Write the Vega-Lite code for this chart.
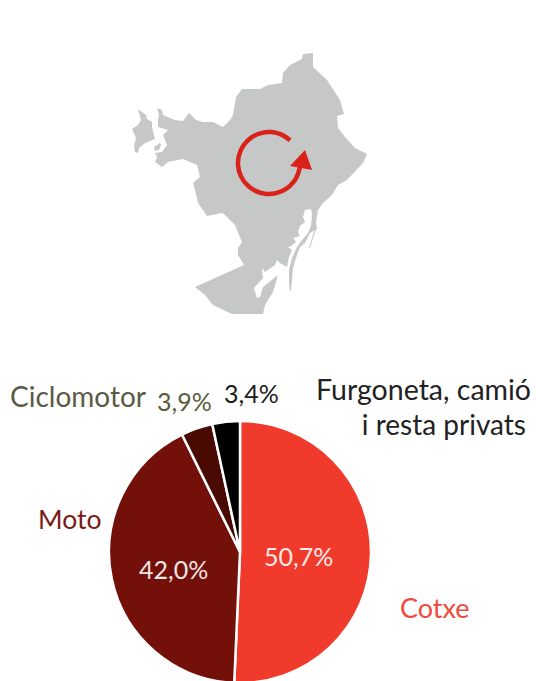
{
"$schema":"https://vega.github.io/schema/vega-lite/v6.json",
"width":536,"height":681,"padding":0,"autosize":{"type":"none"},
"background":"white",
"config":{"view":{"stroke":null},"axis":{"disable":true},"text":{"font":"Lato","fontSize":27,"fontWeight":400}},
"data":{"values":[
{"mode":"Cotxe","share":50.7,"rank":1},
{"mode":"Moto","share":42.0,"rank":2},
{"mode":"Ciclomotor","share":3.9,"rank":3},
{"mode":"Furgoneta, camió i resta privats","share":3.4,"rank":4}
]},
"layer":[
{"data":{"values":[
{"part":"main","i":1,"mx":157,"my":108},{"part":"main","i":2,"mx":162,"my":110},{"part":"main","i":3,"mx":163,"my":115},{"part":"main","i":4,"mx":170,"my":118},{"part":"main","i":5,"mx":175,"my":120},{"part":"main","i":6,"mx":183,"my":121},{"part":"main","i":7,"mx":189,"my":113},{"part":"main","i":8,"mx":196,"my":120},{"part":"main","i":9,"mx":203,"my":122},{"part":"main","i":10,"mx":213,"my":122},{"part":"main","i":11,"mx":223,"my":127},{"part":"main","i":12,"mx":230,"my":120},{"part":"main","i":13,"mx":233,"my":115},{"part":"main","i":14,"mx":236,"my":97},{"part":"main","i":15,"mx":242,"my":89},{"part":"main","i":16,"mx":260,"my":89},{"part":"main","i":17,"mx":268,"my":85},{"part":"main","i":18,"mx":282,"my":83},{"part":"main","i":19,"mx":283,"my":73},{"part":"main","i":20,"mx":290,"my":65},{"part":"main","i":21,"mx":302,"my":59},{"part":"main","i":22,"mx":303,"my":54},{"part":"main","i":23,"mx":313,"my":53},{"part":"main","i":24,"mx":313,"my":67},{"part":"main","i":25,"mx":327,"my":80},{"part":"main","i":26,"mx":340,"my":100},{"part":"main","i":27,"mx":344,"my":114},{"part":"main","i":28,"mx":337,"my":116},{"part":"main","i":29,"mx":338,"my":128},{"part":"main","i":30,"mx":345,"my":137},{"part":"main","i":31,"mx":355,"my":148},{"part":"main","i":32,"mx":367,"my":154},{"part":"main","i":33,"mx":363,"my":163},{"part":"main","i":34,"mx":347,"my":180},{"part":"main","i":35,"mx":338,"my":185},{"part":"main","i":36,"mx":332,"my":195},{"part":"main","i":37,"mx":323,"my":203},{"part":"main","i":38,"mx":318,"my":210},{"part":"main","i":39,"mx":316,"my":222},{"part":"main","i":40,"mx":317,"my":229},{"part":"main","i":41,"mx":310,"my":233},{"part":"main","i":42,"mx":305,"my":243},{"part":"main","i":43,"mx":300,"my":247},{"part":"main","i":44,"mx":296,"my":258},{"part":"main","i":45,"mx":293,"my":268},{"part":"main","i":46,"mx":292,"my":280},{"part":"main","i":47,"mx":291,"my":291},{"part":"main","i":48,"mx":290,"my":291},{"part":"main","i":49,"mx":289,"my":283},{"part":"main","i":50,"mx":289,"my":270},{"part":"main","i":51,"mx":292,"my":258},{"part":"main","i":52,"mx":297,"my":247},{"part":"main","i":53,"mx":302,"my":240},{"part":"main","i":54,"mx":308,"my":233},{"part":"main","i":55,"mx":311,"my":226},{"part":"main","i":56,"mx":312,"my":215},{"part":"main","i":57,"mx":311,"my":209},{"part":"main","i":58,"mx":305,"my":210},{"part":"main","i":59,"mx":303,"my":217},{"part":"main","i":60,"mx":305,"my":222},{"part":"main","i":61,"mx":300,"my":226},{"part":"main","i":62,"mx":298,"my":232},{"part":"main","i":63,"mx":300,"my":236},{"part":"main","i":64,"mx":293,"my":238},{"part":"main","i":65,"mx":296,"my":242},{"part":"main","i":66,"mx":291,"my":246},{"part":"main","i":67,"mx":288,"my":247},{"part":"main","i":68,"mx":292,"my":250},{"part":"main","i":69,"mx":289,"my":257},{"part":"main","i":70,"mx":287,"my":267},{"part":"main","i":71,"mx":280,"my":263},{"part":"main","i":72,"mx":277,"my":260},{"part":"main","i":73,"mx":275,"my":265},{"part":"main","i":74,"mx":265,"my":272},{"part":"main","i":75,"mx":262,"my":268},{"part":"main","i":76,"mx":263,"my":278},{"part":"main","i":77,"mx":254,"my":288},{"part":"main","i":78,"mx":257,"my":298},{"part":"main","i":79,"mx":260,"my":297},{"part":"main","i":80,"mx":263,"my":287},{"part":"main","i":81,"mx":278,"my":275},{"part":"main","i":82,"mx":273,"my":292},{"part":"main","i":83,"mx":265,"my":305},{"part":"main","i":84,"mx":263,"my":314},{"part":"main","i":85,"mx":232,"my":314},{"part":"main","i":86,"mx":213,"my":305},{"part":"main","i":87,"mx":205,"my":295},{"part":"main","i":88,"mx":195,"my":287},{"part":"main","i":89,"mx":244,"my":265},{"part":"main","i":90,"mx":238,"my":255},{"part":"main","i":91,"mx":238,"my":248},{"part":"main","i":92,"mx":242,"my":242},{"part":"main","i":93,"mx":235,"my":225},{"part":"main","i":94,"mx":225,"my":215},{"part":"main","i":95,"mx":222,"my":213},{"part":"main","i":96,"mx":207,"my":216},{"part":"main","i":97,"mx":198,"my":203},{"part":"main","i":98,"mx":197,"my":198},{"part":"main","i":99,"mx":193,"my":183},{"part":"main","i":100,"mx":200,"my":177},{"part":"main","i":101,"mx":197,"my":165},{"part":"main","i":102,"mx":183,"my":159},{"part":"main","i":103,"mx":168,"my":162},{"part":"main","i":104,"mx":162,"my":167},{"part":"main","i":105,"mx":155,"my":162},{"part":"main","i":106,"mx":157,"my":157},{"part":"main","i":107,"mx":155,"my":153},{"part":"main","i":108,"mx":162,"my":152},{"part":"main","i":109,"mx":167,"my":145},{"part":"main","i":110,"mx":163,"my":135},{"part":"main","i":111,"mx":168,"my":130},{"part":"main","i":112,"mx":158,"my":127},{"part":"main","i":113,"mx":158,"my":120},{"part":"main","i":114,"mx":159,"my":115},{"part":"main","i":115,"mx":157,"my":108},
{"part":"west","i":1,"mx":138,"my":109},{"part":"west","i":2,"mx":146,"my":115},{"part":"west","i":3,"mx":147,"my":119},{"part":"west","i":4,"mx":152,"my":122},{"part":"west","i":5,"mx":152,"my":127},{"part":"west","i":6,"mx":155,"my":139},{"part":"west","i":7,"mx":145,"my":143},{"part":"west","i":8,"mx":139,"my":148},{"part":"west","i":9,"mx":138,"my":153},{"part":"west","i":10,"mx":135,"my":152},{"part":"west","i":11,"mx":134,"my":146},{"part":"west","i":12,"mx":136,"my":138},{"part":"west","i":13,"mx":132,"my":129},{"part":"west","i":14,"mx":138,"my":125},{"part":"west","i":15,"mx":141,"my":120},{"part":"west","i":16,"mx":138,"my":109},
{"part":"islet","i":1,"mx":160,"my":143},{"part":"islet","i":2,"mx":154,"my":147},{"part":"islet","i":3,"mx":155,"my":151},{"part":"islet","i":4,"mx":159,"my":150},{"part":"islet","i":5,"mx":161,"my":145},{"part":"islet","i":6,"mx":160,"my":143},
{"part":"mole","i":1,"mx":315,"my":228},{"part":"mole","i":2,"mx":316,"my":229},{"part":"mole","i":3,"mx":310,"my":248},{"part":"mole","i":4,"mx":309,"my":248},{"part":"mole","i":5,"mx":315,"my":228}
]},
"mark":{"type":"line","filled":true,"color":"#c6c8c7","strokeWidth":0.5},
"encoding":{
"x":{"field":"mx","type":"quantitative","scale":{"domain":[0,536],"nice":false}},
"y":{"field":"my","type":"quantitative","scale":{"domain":[681,0],"nice":false}},
"detail":{"field":"part"},"order":{"field":"i","type":"quantitative"}}},
{"data":{"values":[
{"i":1,"mx":290.1,"my":140.3},{"i":2,"mx":282.1,"my":134.9},{"i":3,"mx":271.7,"my":132.1},{"i":4,"mx":261,"my":133.1},{"i":5,"mx":251.2,"my":137.6},{"i":6,"mx":243.6,"my":145.2},{"i":7,"mx":239.1,"my":155},{"i":8,"mx":238.1,"my":165.7},{"i":9,"mx":240.9,"my":176.1},{"i":10,"mx":247.1,"my":184.9},{"i":11,"mx":255.9,"my":191.1},{"i":12,"mx":266.3,"my":193.9},{"i":13,"mx":277,"my":192.9},{"i":14,"mx":286.8,"my":188.4},{"i":15,"mx":294.4,"my":180.8},{"i":16,"mx":298.1,"my":173.6},{"i":17,"mx":300.3,"my":165}
]},
"mark":{"type":"line","color":"#d9231a","strokeWidth":4.5,"interpolate":"cardinal","strokeCap":"butt"},
"encoding":{"x":{"field":"mx","type":"quantitative"},"y":{"field":"my","type":"quantitative"},"order":{"field":"i","type":"quantitative"}}},
{"data":{"values":[{"i":1,"mx":305,"my":150},{"i":2,"mx":312,"my":170},{"i":3,"mx":290,"my":166},{"i":4,"mx":305,"my":150}]},
"mark":{"type":"line","filled":true,"color":"#d9231a","strokeWidth":0},
"encoding":{"x":{"field":"mx","type":"quantitative"},"y":{"field":"my","type":"quantitative"},"order":{"field":"i","type":"quantitative"}}},
{"mark":{"type":"arc","outerRadius":131,"stroke":"white","strokeWidth":2.5},
"encoding":{
"x":{"datum":240,"type":"quantitative"},"y":{"datum":552,"type":"quantitative"},
"theta":{"field":"share","type":"quantitative","stack":true},
"order":{"field":"rank","type":"quantitative"},
"color":{"field":"mode","type":"nominal","legend":null,"sort":null,"scale":{"domain":["Cotxe","Moto","Ciclomotor","Furgoneta, camió i resta privats"],"range":["#f03b2c","#74100a","#4a0a04","#000000"]}}}},
{"data":{"values":[{"t":"Ciclomotor"}]},"mark":{"type":"text","color":"#5b5a45","align":"left","baseline":"alphabetic","fontSize":28},"encoding":{"text":{"field":"t"},"x":{"datum":10},"y":{"datum":407}}},
{"data":{"values":[{"t":"3,9%"}]},"mark":{"type":"text","color":"#5a5c3a","align":"left","baseline":"alphabetic","fontSize":25},"encoding":{"text":{"field":"t"},"x":{"datum":157},"y":{"datum":411}}},
{"data":{"values":[{"t":"3,4%"}]},"mark":{"type":"text","color":"#1c1c1c","align":"left","baseline":"alphabetic","fontSize":25},"encoding":{"text":{"field":"t"},"x":{"datum":224},"y":{"datum":403}}},
{"data":{"values":[{"t":"Furgoneta, camió"}]},"mark":{"type":"text","color":"#222222","align":"right","baseline":"alphabetic","fontSize":28.5},"encoding":{"text":{"field":"t"},"x":{"datum":531},"y":{"datum":400}}},
{"data":{"values":[{"t":"i resta privats"}]},"mark":{"type":"text","color":"#222222","align":"right","baseline":"alphabetic","fontSize":28},"encoding":{"text":{"field":"t"},"x":{"datum":526},"y":{"datum":435}}},
{"data":{"values":[{"t":"Moto"}]},"mark":{"type":"text","color":"#7a1a16","align":"left","baseline":"alphabetic","fontSize":26.5},"encoding":{"text":{"field":"t"},"x":{"datum":38},"y":{"datum":529}}},
{"data":{"values":[{"t":"42,0%"}]},"mark":{"type":"text","color":"#f0e6e4","align":"left","baseline":"alphabetic","fontSize":25},"encoding":{"text":{"field":"t"},"x":{"datum":139},"y":{"datum":579}}},
{"data":{"values":[{"t":"50,7%"}]},"mark":{"type":"text","color":"#fbe9e6","align":"left","baseline":"alphabetic","fontSize":25},"encoding":{"text":{"field":"t"},"x":{"datum":264},"y":{"datum":566}}},
{"data":{"values":[{"t":"Cotxe"}]},"mark":{"type":"text","color":"#f04a3c","align":"left","baseline":"alphabetic","fontSize":27},"encoding":{"text":{"field":"t"},"x":{"datum":400},"y":{"datum":618}}}
]
}
